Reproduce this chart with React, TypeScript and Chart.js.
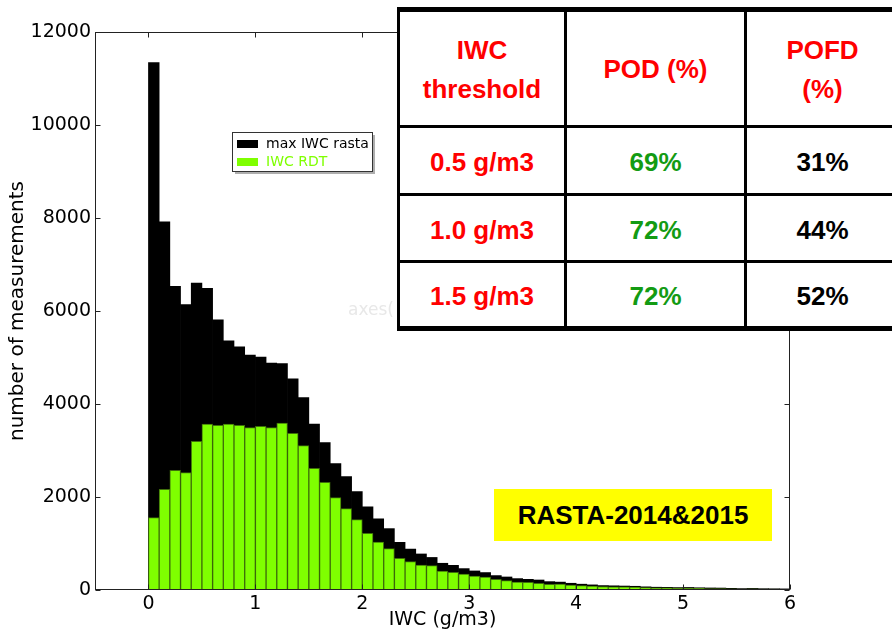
import React, { useEffect, useRef } from 'react';
import { Chart, registerables } from 'chart.js';

Chart.register(...registerables);

// Histogram bins (centres, g/m3), 0.1 g/m3 wide
const binCenters = [
  0.05, 0.15, 0.25, 0.35, 0.45, 0.55, 0.65, 0.75, 0.85, 0.95,
  1.05, 1.15, 1.25, 1.35, 1.45, 1.55, 1.65, 1.75, 1.85, 1.95,
  2.05, 2.15, 2.25, 2.35, 2.45, 2.55, 2.65, 2.75, 2.85, 2.95,
  3.05, 3.15, 3.25, 3.35, 3.45, 3.55, 3.65, 3.75, 3.85, 3.95,
  4.05, 4.15, 4.25, 4.35, 4.45, 4.55, 4.65, 4.75, 4.85, 4.95,
  5.05, 5.15, 5.25, 5.35, 5.45, 5.55, 5.65, 5.75, 5.85, 5.95,
];

// Counts per bin: maximum IWC measured by RASTA
const maxIwcRasta = [
  11340, 7920, 6530, 6140, 6600, 6490, 5810, 5360, 5230, 5050,
  5010, 4880, 4870, 4540, 4140, 3570, 3170, 2720, 2440, 2115,
  1790, 1530, 1320, 1025, 880, 775, 700, 575, 530, 460,
  410, 375, 310, 280, 245, 230, 215, 180, 170, 145,
  125, 110, 95, 90, 85, 80, 68, 60, 58, 52,
  55, 48, 44, 42, 36, 30, 34, 28, 26, 24,
];

// Counts per bin: IWC from RDT
const iwcRdt = [
  1556, 2165, 2573, 2523, 3197, 3570, 3541, 3570, 3541, 3491,
  3520, 3491, 3591, 3369, 3104, 2616, 2315, 1986, 1749, 1512,
  1219, 1032, 889, 681, 609, 538, 523, 409, 380, 344,
  301, 280, 229, 201, 172, 165, 143, 122, 129, 108,
  93, 86, 75, 70, 68, 62, 52, 46, 44, 40,
  42, 36, 33, 31, 27, 22, 25, 20, 19, 17,
];

const xTickValues = [0, 1, 2, 3, 4, 5, 6];
const yTickValues = [0, 2000, 4000, 6000, 8000, 10000, 12000];

const seriesNames = ['max IWC rasta', 'IWC RDT'];

// Scores table
const tableHeaders = ['IWC\nthreshold', 'POD (%)', 'POFD\n(%)'];
const thresholds = ['0.5 g/m3', '1.0 g/m3', '1.5 g/m3'];
const podValues = ['69%', '72%', '72%'];
const pofdValues = ['31%', '44%', '52%'];

const campaignLabel = 'RASTA-2014&2015';

const GREEN = '#7fff00';
const TICK_FONT = '"DejaVu Sans", sans-serif';

const framePlugin = {
  id: 'frameAndLegend',
  afterDatasetsDraw(chart: any) {
    const { ctx, chartArea: a, scales } = chart;
    ctx.save();
    ctx.strokeStyle = '#222';
    ctx.lineWidth = 1;
    const l = Math.round(a.left) + 0.5;
    const t = Math.round(a.top) + 0.5;
    const r = Math.round(a.right) - 0.5;
    const b = Math.round(a.bottom) - 0.5;
    ctx.strokeRect(l, t, r - l, b - t);
    ctx.beginPath();
    for (const v of xTickValues) {
      const px = Math.round(scales.x.getPixelForValue(v)) + 0.5;
      ctx.moveTo(px, b);
      ctx.lineTo(px, b - 5);
      ctx.moveTo(px, t);
      ctx.lineTo(px, t + 5);
    }
    for (const v of yTickValues) {
      const py = Math.round(scales.y.getPixelForValue(v)) + 0.5;
      ctx.moveTo(l, py);
      ctx.lineTo(l + 5, py);
      ctx.moveTo(r, py);
      ctx.lineTo(r - 5, py);
    }
    ctx.stroke();
    ctx.restore();
  },
  afterDraw(chart: any) {
    const { ctx } = chart;
    ctx.save();
    // faint axes caption
    ctx.font = `17px ${TICK_FONT}`;
    ctx.fillStyle = '#e8e8e8';
    ctx.textBaseline = 'middle';
    ctx.textAlign = 'left';
    ctx.fillText('axes(', 348, 311);

    // legend box with shadow
    const bx = 232, by = 132, bw = 140, bh = 39;
    ctx.fillStyle = 'rgba(120,120,120,0.6)';
    ctx.fillRect(bx + 3, by + 3, bw, bh);
    ctx.fillStyle = '#fff';
    ctx.fillRect(bx, by, bw, bh);
    ctx.strokeStyle = '#333';
    ctx.lineWidth = 1;
    ctx.strokeRect(bx + 0.5, by + 0.5, bw, bh);
    const colors = ['#000', GREEN];
    const textColors = ['#000', GREEN];
    const rows = [144, 162];
    ctx.font = `14px ${TICK_FONT}`;
    ctx.textBaseline = 'middle';
    seriesNames.forEach((name, i) => {
      ctx.fillStyle = colors[i];
      ctx.fillRect(237, rows[i] - 4, 21, 8);
      ctx.fillStyle = textColors[i];
      ctx.fillText(name, 266, rows[i]);
    });
    ctx.restore();
  },
};

const cellFont = '"Liberation Sans", Arial, sans-serif';

function Cell(props: { left: number; top: number; width: number; height: number; color: string; text: string }) {
  const { left, top, width, height, color, text } = props;
  return (
    <div
      style={{
        position: 'absolute',
        left,
        top,
        width,
        height,
        display: 'flex',
        alignItems: 'center',
        justifyContent: 'center',
        textAlign: 'center',
        whiteSpace: 'pre-line',
        color,
        font: `bold 26px ${cellFont}`,
        lineHeight: '39px',
      }}
    >
      {text}
    </div>
  );
}

function Line(props: { left: number; top: number; width: number; height: number }) {
  return <div style={{ position: 'absolute', background: '#000', ...props }} />;
}

export default function App() {
  const canvasRef = useRef<HTMLCanvasElement | null>(null);

  useEffect(() => {
    const canvas = canvasRef.current;
    if (!canvas) return;
    const chart = new Chart(canvas, {
      type: 'bar',
      data: {
        datasets: [
          {
            label: seriesNames[0],
            data: binCenters.map((x, i) => ({ x, y: maxIwcRasta[i] })),
            backgroundColor: '#000',
            borderColor: '#000',
            borderWidth: 0,
            order: 2,
            grouped: false,
            barPercentage: 1,
            categoryPercentage: 1,
          },
          {
            label: seriesNames[1],
            data: binCenters.map((x, i) => ({ x, y: iwcRdt[i] })),
            backgroundColor: GREEN,
            borderColor: '#3f6f0a',
            borderWidth: 1,
            order: 1,
            grouped: false,
            barPercentage: 1,
            categoryPercentage: 1,
          },
        ],
      } as any,
      options: {
        animation: false,
        responsive: false,
        devicePixelRatio: 1,
        layout: { padding: { top: 32, right: 102, left: 0, bottom: 0 } },
        plugins: { legend: { display: false }, tooltip: { enabled: false } },
        scales: {
          x: {
            type: 'linear',
            min: -0.5,
            max: 6,
            offset: false,
            grid: { display: false, drawTicks: false },
            border: { display: false },
            afterBuildTicks: (s: any) => {
              s.ticks = xTickValues.map((v) => ({ value: v }));
            },
            afterFit: (s: any) => {
              s.height = 43;
            },
            ticks: {
              color: '#000',
              padding: 3,
              maxRotation: 0,
              font: { family: TICK_FONT, size: 19 },
              callback: (v: any) => String(v),
            },
            title: {
              display: true,
              text: 'IWC (g/m3)',
              color: '#000',
              font: { family: TICK_FONT, size: 19 },
              padding: { top: 0, bottom: 2 },
            },
          },
          y: {
            min: 0,
            max: 12000,
            grid: { display: false, drawTicks: false },
            border: { display: false },
            afterBuildTicks: (s: any) => {
              s.ticks = yTickValues.map((v) => ({ value: v }));
            },
            afterFit: (s: any) => {
              s.width = 95;
            },
            ticks: {
              color: '#000',
              padding: 4,
              font: { family: TICK_FONT, size: 19 },
              callback: (v: any) => String(v),
            },
            title: {
              display: true,
              text: 'number of measurements',
              color: '#000',
              font: { family: TICK_FONT, size: 20 },
              padding: { top: 6, bottom: 0 },
            },
          },
        },
      } as any,
      plugins: [framePlugin],
    });
    return () => chart.destroy();
  }, []);

  const colX = [400, 567, 747];
  const colW = [164, 177, 151];
  const rowY = [128, 196, 263];
  const rowH = [65, 64, 63];

  return (
    <div style={{ position: 'absolute', left: 0, top: 0, width: 892, height: 633, overflow: 'hidden', background: '#fff' }}>
      <canvas ref={canvasRef} width={892} height={633} style={{ position: 'absolute', left: 0, top: 0 }} />

      {/* scores table */}
      <div style={{ position: 'absolute', left: 397, top: 7, width: 510, height: 324, background: '#fff' }} />
      <Line left={397} top={7} width={510} height={5} />
      <Line left={397} top={326} width={510} height={5} />
      <Line left={397} top={7} width={3} height={324} />
      <Line left={564} top={7} width={3} height={324} />
      <Line left={744} top={7} width={3} height={324} />
      <Line left={397} top={125} width={510} height={3} />
      <Line left={397} top={193} width={510} height={3} />
      <Line left={397} top={260} width={510} height={3} />

      {tableHeaders.map((h, i) => (
        <Cell key={'h' + i} left={colX[i]} top={14} width={colW[i]} height={111} color="#ff0000" text={h} />
      ))}
      {thresholds.map((t, r) => (
        <Cell key={'t' + r} left={colX[0]} top={rowY[r] + 2} width={colW[0]} height={rowH[r]} color="#ff0000" text={t} />
      ))}
      {podValues.map((t, r) => (
        <Cell key={'p' + r} left={colX[1]} top={rowY[r] + 2} width={colW[1]} height={rowH[r]} color="#139b13" text={t} />
      ))}
      {pofdValues.map((t, r) => (
        <Cell key={'f' + r} left={colX[2]} top={rowY[r] + 2} width={colW[2]} height={rowH[r]} color="#000" text={t} />
      ))}

      {/* campaign label */}
      <div
        style={{
          position: 'absolute',
          left: 494,
          top: 489,
          width: 278,
          height: 52,
          background: '#ffff00',
          display: 'flex',
          alignItems: 'center',
          justifyContent: 'center',
          color: '#000',
          font: `bold 26px ${cellFont}`,
        }}
      >
        {campaignLabel}
      </div>
    </div>
  );
}
